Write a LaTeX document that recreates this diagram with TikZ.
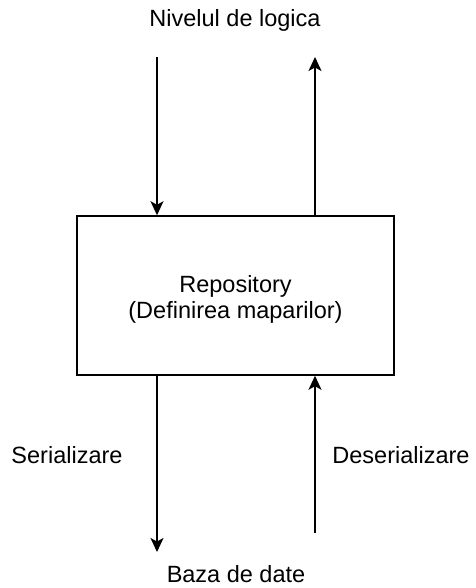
\documentclass[tikz,border=0pt]{standalone}
\usepackage{fontspec}
\setmainfont{Liberation Sans}
\usetikzlibrary{arrows.meta}
\begin{document}
\begin{tikzpicture}[x=1pt,y=-1pt,
  flow/.style={line width=1.6pt,-{Stealth[length=14pt,width=13pt,inset=3.5pt]}},
  label/.style={font=\fontsize{23.5}{26}\selectfont,inner sep=0pt,anchor=base},
  block/.style={draw,line width=1.5pt,minimum width=317pt,minimum height=159pt,inner sep=0pt}]
  \useasboundingbox (0,0) rectangle (475,588);
  % central block
  \node[block] (repo) at (235.5,295.5) {};
  \node[label,align=center] (repotext) at (235.5,318) {Repository\\(Definirea maparilor)};
  % labels
  \node[label] (logic) at (235,27) {Nivelul de logica};
  \node[label] (db) at (236,582) {Baza de date};
  \node[label] (ser) at (67,463) {Serializare};
  \node[label] (deser) at (401,463) {Deserializare};
  % free ends of the connectors
  \coordinate (inTop) at (157,57);
  \coordinate (outTop) at (315,57);
  \coordinate (outBot) at (157,552);
  \coordinate (inBot) at (315,533);
  % connectors
  \draw[flow] (inTop) -- (inTop |- repo.north);
  \draw[flow] (outTop |- repo.north) -- (outTop);
  \draw[flow] (outBot |- repo.south) -- (outBot);
  \draw[flow] (inBot) -- (inBot |- repo.south);
\end{tikzpicture}
\end{document}
